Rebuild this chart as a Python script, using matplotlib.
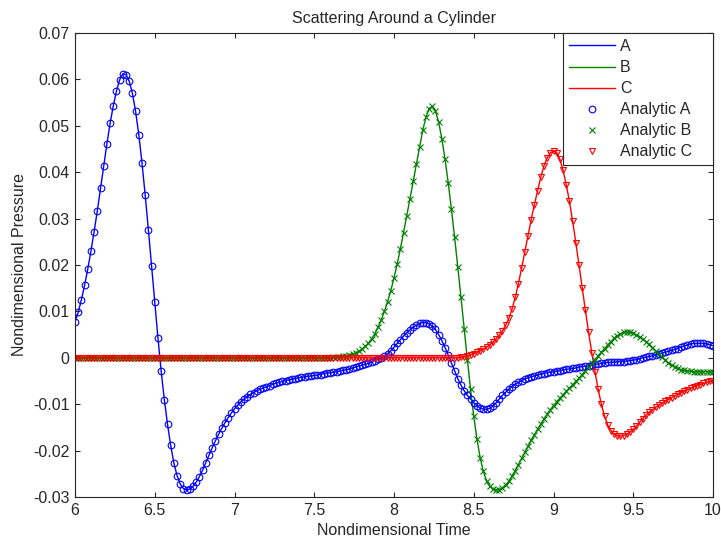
import numpy as np
import matplotlib
matplotlib.use('Agg')
import matplotlib.pyplot as plt

plt.rcParams['font.family'] = ['Liberation Sans', 'DejaVu Sans']

# time grid: 6 .. 10 in steps of 0.02 (201 samples)
t = np.linspace(6.0, 10.0, 201)

# series A
a_vals = [
    0.0077, 0.0098, 0.0125, 0.0156, 0.0191, 0.0230, 0.0272, 0.0317, 0.0365, 0.0413,
    0.0461, 0.0505, 0.0543, 0.0575, 0.0599, 0.0612, 0.0610, 0.0596, 0.0570, 0.0531,
    0.0481, 0.0420, 0.0351, 0.0276, 0.0198, 0.0120, 0.0043, -0.0028, -0.0090, -0.0143,
    -0.0189, -0.0227, -0.0254, -0.0272, -0.0282, -0.0285, -0.0283, -0.0277, -0.0268, -0.0256,
    -0.0242, -0.0226, -0.0210, -0.0194, -0.0179, -0.0165, -0.0152, -0.0140, -0.0129, -0.0119,
    -0.0110, -0.0102, -0.0095, -0.0089, -0.0084, -0.0079, -0.0075, -0.0071, -0.0068, -0.0065,
    -0.0062, -0.0060, -0.0057, -0.0055, -0.0053, -0.0051, -0.0049, -0.0048, -0.0046, -0.0045,
    -0.0043, -0.0042, -0.0041, -0.0040, -0.0039, -0.0038, -0.0037, -0.0036, -0.0034, -0.0033,
    -0.0032, -0.0031, -0.0030, -0.0029, -0.0027, -0.0026, -0.0024, -0.0022, -0.0020, -0.0018,
    -0.0016, -0.0014, -0.0012, -0.0009, -0.0006, -0.0003, -0.0001, 0.0003, 0.0008, 0.0015,
    0.0023, 0.0031, 0.0039, 0.0047, 0.0054, 0.0060, 0.0066, 0.0070, 0.0074, 0.0076,
    0.0076, 0.0073, 0.0068, 0.0061, 0.0050, 0.0037, 0.0022, 0.0006, -0.0011, -0.0028,
    -0.0045, -0.0059, -0.0071, -0.0081, -0.0089, -0.0097, -0.0103, -0.0108, -0.0111, -0.0111,
    -0.0109, -0.0104, -0.0097, -0.0089, -0.0081, -0.0074, -0.0068, -0.0062, -0.0057, -0.0053,
    -0.0049, -0.0046, -0.0043, -0.0041, -0.0039, -0.0037, -0.0035, -0.0034, -0.0032, -0.0031,
    -0.0030, -0.0029, -0.0028, -0.0026, -0.0025, -0.0024, -0.0023, -0.0022, -0.0020, -0.0019,
    -0.0018, -0.0017, -0.0015, -0.0014, -0.0013, -0.0012, -0.0011, -0.0010, -0.0010, -0.0009,
    -0.0009, -0.0008, -0.0008, -0.0007, -0.0006, -0.0005, -0.0004, -0.0002, 0.0000, 0.0001,
    0.0003, 0.0004, 0.0006, 0.0008, 0.0010, 0.0012, 0.0014, 0.0016, 0.0018, 0.0020,
    0.0023, 0.0025, 0.0028, 0.0030, 0.0031, 0.0031, 0.0031, 0.0031, 0.0030, 0.0028,
    0.0026,
]

# series B: flat zero up to t = 7.60
b_vals = [0.0] * 81 + [
    0.0001, 0.0001, 0.0002, 0.0003, 0.0004, 0.0006, 0.0008, 0.0011, 0.0014,
    0.0019, 0.0025, 0.0032, 0.0041, 0.0052, 0.0066, 0.0082, 0.0100, 0.0121, 0.0145,
    0.0172, 0.0202, 0.0235, 0.0270, 0.0306, 0.0343, 0.0380, 0.0418, 0.0455, 0.0490,
    0.0518, 0.0537, 0.0542, 0.0532, 0.0508, 0.0472, 0.0428, 0.0377, 0.0320, 0.0260,
    0.0196, 0.0130, 0.0063, -0.0004, -0.0068, -0.0126, -0.0175, -0.0215, -0.0245, -0.0265,
    -0.0277, -0.0283, -0.0285, -0.0284, -0.0280, -0.0274, -0.0266, -0.0255, -0.0243, -0.0230,
    -0.0217, -0.0204, -0.0191, -0.0178, -0.0166, -0.0154, -0.0143, -0.0132, -0.0122, -0.0112,
    -0.0103, -0.0095, -0.0087, -0.0080, -0.0072, -0.0065, -0.0058, -0.0051, -0.0044, -0.0036,
    -0.0028, -0.0020, -0.0012, -0.0004, 0.0004, 0.0012, 0.0020, 0.0028, 0.0035, 0.0042,
    0.0048, 0.0052, 0.0055, 0.0056, 0.0055, 0.0053, 0.0049, 0.0045, 0.0040, 0.0035,
    0.0029, 0.0022, 0.0015, 0.0008, 0.0001, -0.0005, -0.0011, -0.0016, -0.0020, -0.0023,
    -0.0026, -0.0027, -0.0028, -0.0029, -0.0030, -0.0030, -0.0030, -0.0030, -0.0030, -0.0030,
    -0.0030,
]

# series C: flat zero up to t = 8.40
c_vals = [0.0] * 121 + [
    0.0001, 0.0002, 0.0004, 0.0006, 0.0009, 0.0012, 0.0015, 0.0019, 0.0023,
    0.0028, 0.0034, 0.0041, 0.0049, 0.0058, 0.0070, 0.0085, 0.0105, 0.0130, 0.0160,
    0.0193, 0.0228, 0.0263, 0.0298, 0.0330, 0.0360, 0.0389, 0.0413, 0.0431, 0.0442,
    0.0446, 0.0442, 0.0428, 0.0404, 0.0373, 0.0337, 0.0294, 0.0248, 0.0200, 0.0151,
    0.0102, 0.0055, 0.0011, -0.0030, -0.0068, -0.0100, -0.0126, -0.0145, -0.0157, -0.0164,
    -0.0168, -0.0169, -0.0168, -0.0165, -0.0160, -0.0154, -0.0147, -0.0139, -0.0131, -0.0124,
    -0.0117, -0.0112, -0.0107, -0.0102, -0.0098, -0.0094, -0.0090, -0.0086, -0.0082, -0.0078,
    -0.0075, -0.0072, -0.0069, -0.0066, -0.0063, -0.0060, -0.0058, -0.0055, -0.0053, -0.0051,
    -0.0049,
]

x_ticks = [6, 6.5, 7, 7.5, 8, 8.5, 9, 9.5, 10]
x_labels = ['6', '6.5', '7', '7.5', '8', '8.5', '9', '9.5', '10']
y_ticks = [-0.03, -0.02, -0.01, 0, 0.01, 0.02, 0.03, 0.04, 0.05, 0.06, 0.07]
y_labels = ['-0.03', '-0.02', '-0.01', '0', '0.01', '0.02', '0.03', '0.04', '0.05', '0.06', '0.07']

dark = '#262626'
green = (0, 0.5, 0)

fig = plt.figure(figsize=(7.21, 5.38), dpi=100)
ax = fig.add_axes([75 / 721, 1 - 497 / 538, 638 / 721, 464 / 538])

ax.plot(t, a_vals, 'b-', lw=1.0, label='A')
ax.plot(t, b_vals, '-', color=green, lw=1.0, label='B')
ax.plot(t, c_vals, 'r-', lw=1.0, label='C')
ax.plot(t, a_vals, 'o', ls='none', mfc='none', mec='b', ms=4.8, mew=0.8, label='Analytic A')
ax.plot(t, b_vals, 'x', ls='none', color=green, ms=4.0, mew=0.8, label='Analytic B')
ax.plot(t, c_vals, 'v', ls='none', mfc='none', mec='r', ms=4.4, mew=0.8, label='Analytic C')

ax.set_xlim(6, 10)
ax.set_ylim(-0.03, 0.07)
ax.set_xticks(x_ticks)
ax.set_xticklabels(x_labels)
ax.set_yticks(y_ticks)
ax.set_yticklabels(y_labels)
ax.tick_params(direction='in', top=True, right=True, length=3.5, width=0.8,
               labelsize=11.5, colors=dark, pad=4)
for s in ax.spines.values():
    s.set_color(dark)
    s.set_linewidth(0.8)

ax.set_title('Scattering Around a Cylinder', fontsize=11.5, color=dark, pad=7)
ax.set_xlabel('Nondimensional Time', fontsize=11.5, color=dark, labelpad=4)
ax.set_ylabel('Nondimensional Pressure', fontsize=11.5, color=dark, labelpad=4)

# legend box stretched to the width it has in the reference
leg_x0 = (563 - 75) / 638
leg_w = (713 - 563) / 638
leg = ax.legend(loc='upper left', bbox_to_anchor=(leg_x0, 0, leg_w, 1), mode='expand',
                borderaxespad=0, fancybox=False, framealpha=1,
                edgecolor=dark, fontsize=11.5, handlelength=2.9, handletextpad=0.3,
                labelspacing=0.38, borderpad=0.38, numpoints=1)
leg.get_frame().set_linewidth(0.8)
for txt in leg.get_texts():
    txt.set_color(dark)

fig.savefig('out.png', dpi=100)
